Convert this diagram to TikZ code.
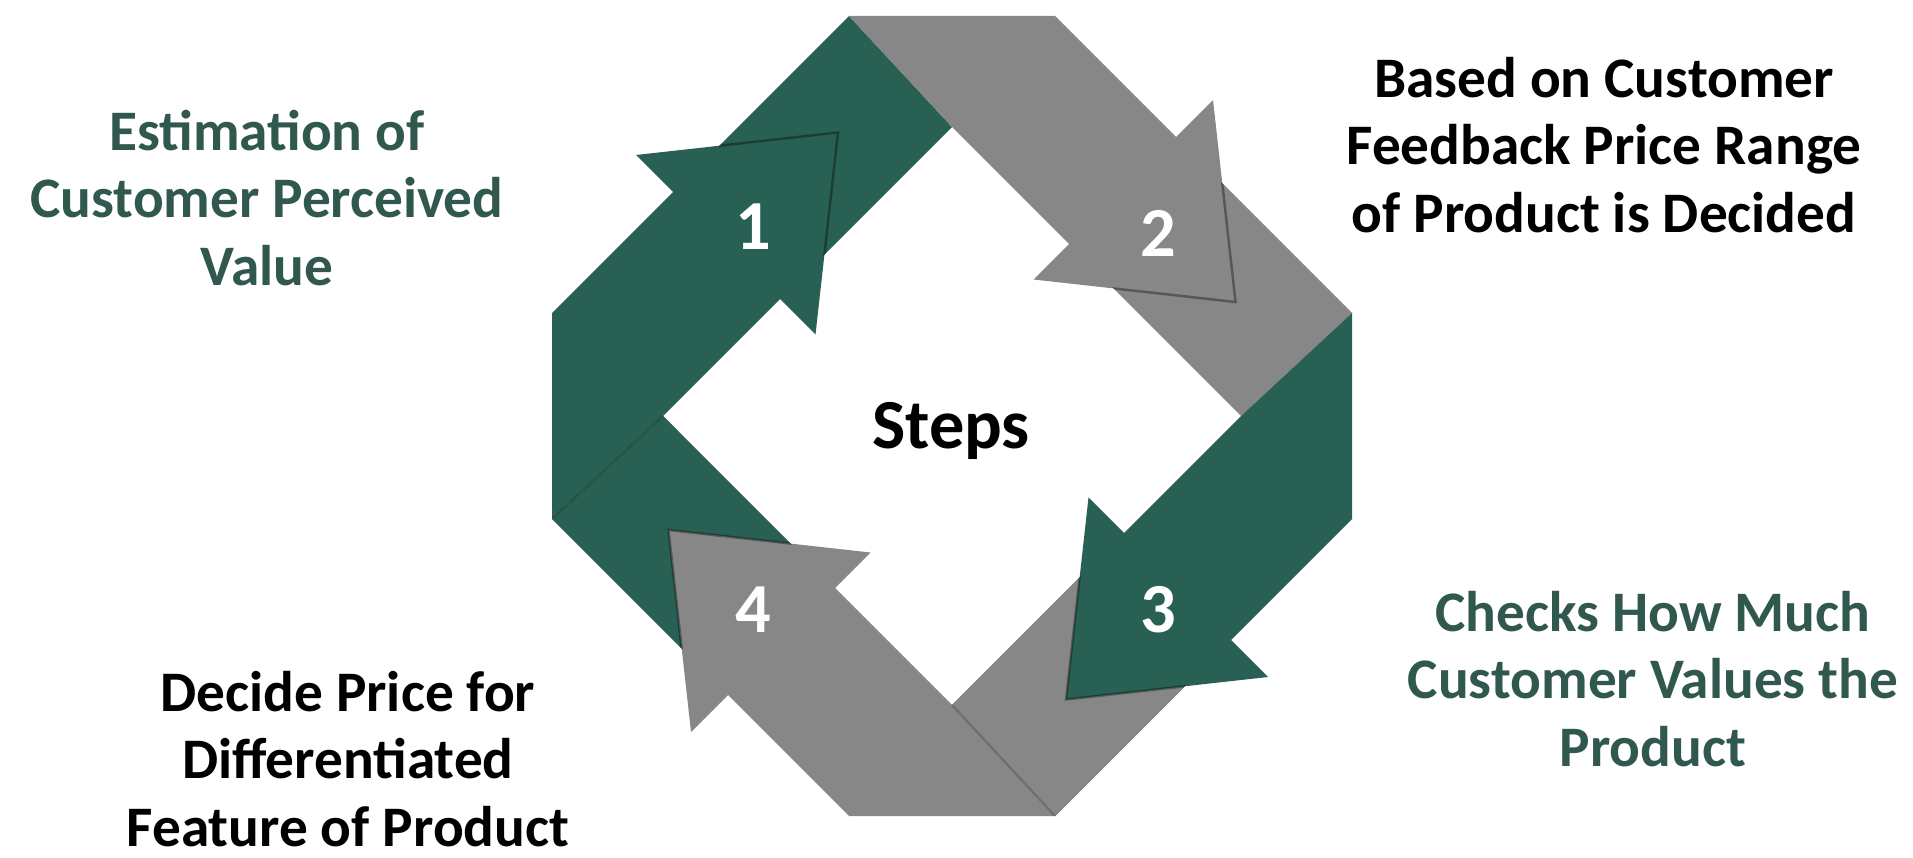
\documentclass[tikz,border=0pt]{standalone}
\usepackage{fontspec}
\setmainfont{Carlito}
\usepackage{xcolor}
\usepackage{tikz}

\definecolor{stepgreen}{RGB}{40,96,83}
\definecolor{stepgray}{RGB}{135,135,135}
\definecolor{labelgreen}{RGB}{48,88,78}

\begin{document}
\begin{tikzpicture}[
            x=0.01cm, y=0.01cm,
            label/.style={align=center, inner sep=0pt, font=\bfseries\fontsize{16.3}{19.2}\selectfont},
            num/.style={inner sep=0pt, text=white, font=\bfseries\fontsize{20}{24}\selectfont},
            seam/.style={draw=black, draw opacity=0.18, line width=0.6pt},
            headedge/.style={draw=black, draw opacity=0.35, line width=0.7pt}
        ]
        \useasboundingbox (0,0) rectangle (1913,857);

        \begin{scope}[shift={(952,441)}]
            % Bands
            \fill[stepgreen] (-400,-103) -- (-400,103) -- (-103,400) -- (0,289) -- (-289,0) -- cycle;
            \fill[stepgray, rotate=-90] (-400,-103) -- (-400,103) -- (-103,400) -- (0,289) -- (-289,0) -- cycle;
            \fill[stepgreen, rotate=180] (-400,-103) -- (-400,103) -- (-103,400) -- (0,289) -- (-289,0) -- cycle;
            \fill[stepgray, rotate=90] (-400,-103) -- (-400,103) -- (-103,400) -- (0,289) -- (-289,0) -- cycle;

            % Folded ends behind heads 3 and 4
            \fill[stepgray, rotate=180] (-137.5,151.6) -- (-244.4,258.6) -- (-103,400) -- (0,289) -- cycle;
            \fill[stepgreen, rotate=90] (-137.5,151.6) -- (-244.4,258.6) -- (-103,400) -- (0,289) -- cycle;
            \draw[seam] (-400,-103) -- (-289,0);
            \draw[seam, rotate=90] (-400,-103) -- (-289,0);

            % Heads
            \fill[stepgreen] (-316,261) -- (-114,283.5) -- (-136.5,81.5) -- cycle;
            \fill[stepgray, rotate=-90] (-316,261) -- (-114,283.5) -- (-136.5,81.5) -- cycle;
            \fill[stepgreen, rotate=180] (-316,261) -- (-114,283.5) -- (-136.5,81.5) -- cycle;
            \fill[stepgray, rotate=90] (-316,261) -- (-114,283.5) -- (-136.5,81.5) -- cycle;

            % Head shading inside the bands
            \begin{scope}
                \clip (-400,-103) -- (-400,103) -- (-103,400) -- (0,289) -- (-289,0) -- cycle;
                \draw[headedge] (-316,261) -- (-114,283.5) -- (-136.5,81.5);
            \end{scope}
            \begin{scope}[rotate=-90]
                \clip (-400,-103) -- (-400,103) -- (-103,400) -- (0,289) -- (-289,0) -- cycle;
                \draw[headedge] (-316,261) -- (-114,283.5) -- (-136.5,81.5);
            \end{scope}
            \begin{scope}[rotate=180]
                \clip (-400,-103) -- (-400,103) -- (-103,400) -- (0,289) -- (-289,0) -- cycle;
                \draw[headedge] (-316,261) -- (-114,283.5) -- (-136.5,81.5);
            \end{scope}
            \begin{scope}[rotate=90]
                \clip (-400,-103) -- (-400,103) -- (-103,400) -- (0,289) -- (-289,0) -- cycle;
                \draw[headedge] (-316,261) -- (-114,283.5) -- (-136.5,81.5);
            \end{scope}
        \end{scope}

        % Step numbers
        \node[num] (n1) at (753,630) {1};
        \node[num] (n2) at (1158,624) {2};
        \node[num] (n3) at (1158,247) {3};
        \node[num] (n4) at (753,247) {4};
        \node[anchor=base, inner sep=0pt, font=\bfseries\fontsize{20}{24}\selectfont] (steps) at (951,409) {Steps};

        % Labels
        \node[label, text=labelgreen] (l1) at (267,659) {Estimation of\\Customer Perceived\\Value};
        \node[label] (l2) at (1604,712) {Based on Customer\\Feedback Price Range\\of Product is Decided};
        \node[label, text=labelgreen] (l3) at (1653,178) {Checks How Much\\Customer Values the\\Product};
        \node[label] (l4) at (348,98) {Decide Price for\\Differentiated\\Feature of Product};

\end{tikzpicture}
\end{document}
